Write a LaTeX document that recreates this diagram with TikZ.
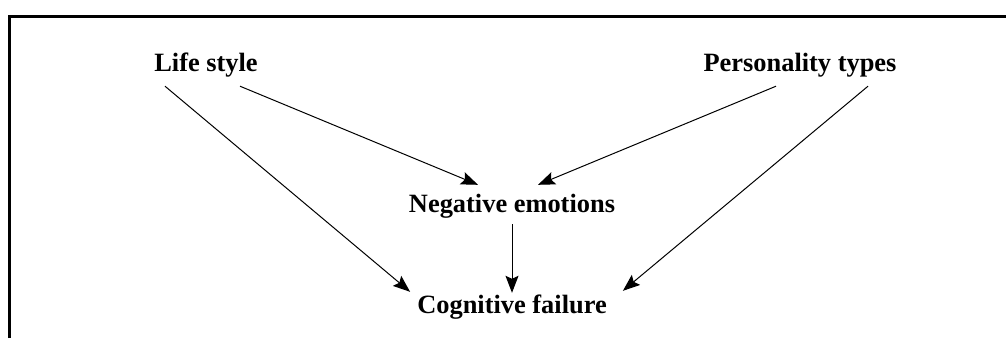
\documentclass[tikz,border=0pt]{standalone}
\usepackage{fontspec}
\setmainfont{Liberation Serif}
\usetikzlibrary{arrows.meta}

\begin{document}
\begin{tikzpicture}[x=1pt, y=-1pt,
    factor/.style={font=\fontsize{26.4}{30}\selectfont\bfseries, anchor=base,
        inner xsep=4pt, inner ysep=9pt, text height=18pt, text depth=6pt},
    link/.style={-{Stealth[length=17pt, width=13pt, inset=3pt]}, line width=1pt}]

    % Page size
    \useasboundingbox (0,0) rectangle (1006,338);

    % Frame (cut at right and bottom)
    \draw[line width=3pt] (9,338) -- (9,16) -- (1006,16);

    % Factors
    \node[factor] (life) at (206,71) {Life style};
    \node[factor] (pers) at (800,71) {Personality types};
    \node[factor] (neg)  at (512,212) {Negative emotions};
    \node[factor] (cog)  at (512,313) {Cognitive failure};

    % Links
    \draw[link] ([xshift=-41pt]life.south) -- ([xshift=-3pt, yshift=-6pt]cog.north west);
    \draw[link] ([xshift=34pt]life.south) -- ([xshift=-34pt]neg.north);
    \draw[link] ([xshift=-24pt]pers.south) -- ([xshift=26pt]neg.north);
    \draw[link] ([xshift=68pt]pers.south) -- ([xshift=12pt, yshift=-5pt]cog.north east);
    \draw[link] ([yshift=3pt]neg.south) -- ([yshift=-7pt]cog.north);

\end{tikzpicture}
\end{document}
